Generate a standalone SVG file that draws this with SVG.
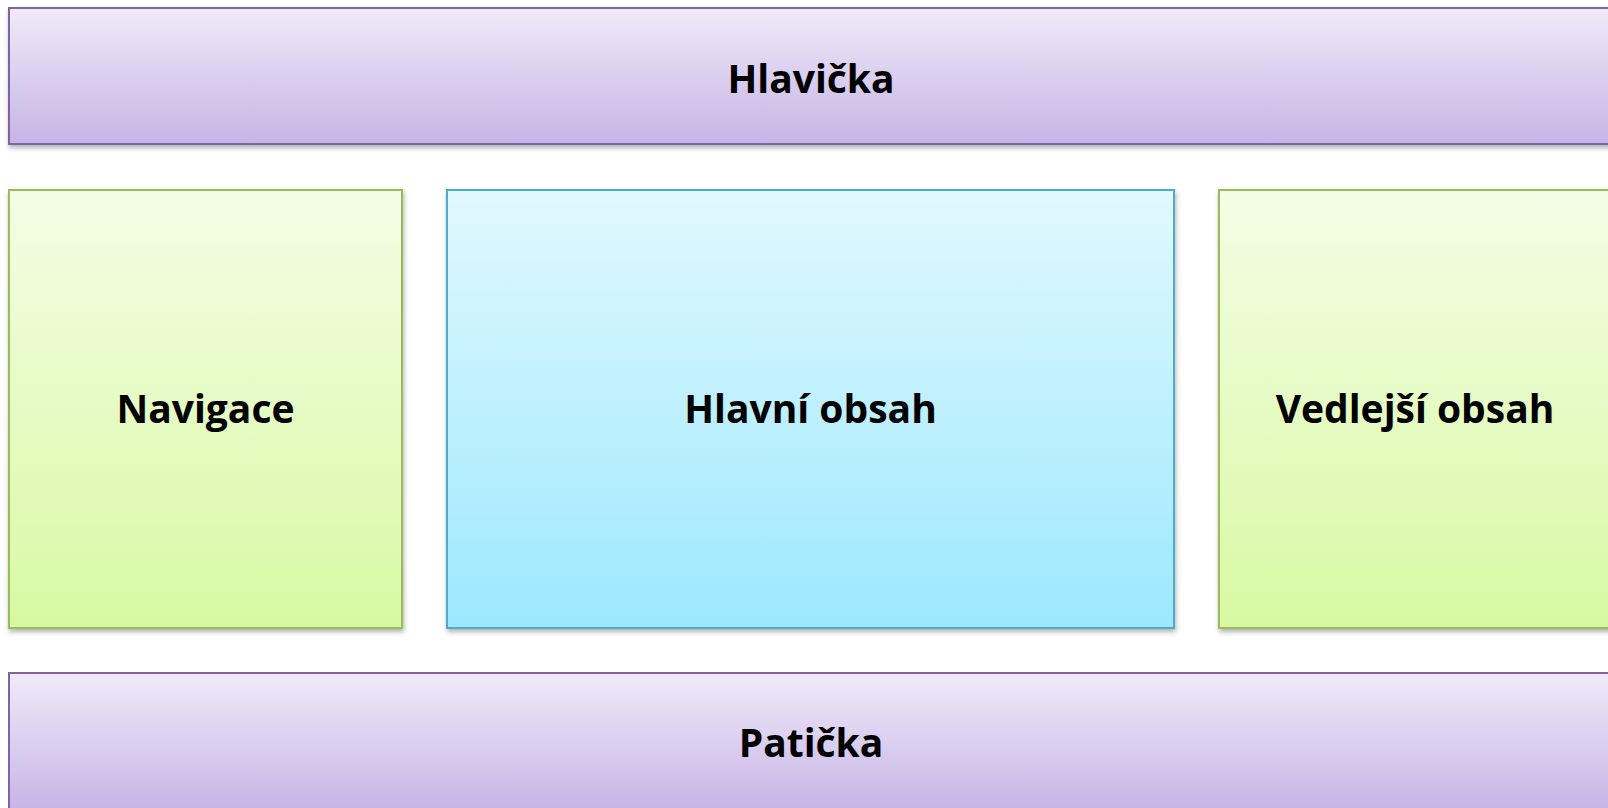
<svg xmlns="http://www.w3.org/2000/svg" width="1608" height="808" viewBox="0 0 1608 808">
<style>
.lbl{font-family:"Open Sans","Liberation Sans",sans-serif;font-weight:700;font-size:39px;fill:#000;text-anchor:middle}
.purple{fill:url(#gP);stroke:#8064a2;stroke-width:2}
.green{fill:url(#gG);stroke:#9bbb59;stroke-width:2}
.blue{fill:url(#gB);stroke:#4bacc6;stroke-width:2}
</style>
<defs>
<linearGradient id="gP" x1="0" y1="0" x2="0" y2="1"><stop offset="0" stop-color="#f0eaf8"/><stop offset="1" stop-color="#c6b4e6"/></linearGradient>
<linearGradient id="gG" x1="0" y1="0" x2="0" y2="1"><stop offset="0" stop-color="#f3fde5"/><stop offset="1" stop-color="#d8f9a3"/></linearGradient>
<linearGradient id="gB" x1="0" y1="0" x2="0" y2="1"><stop offset="0" stop-color="#e1f8fe"/><stop offset="1" stop-color="#9ce8fe"/></linearGradient>
<filter id="sh" x="-5%" y="-5%" width="110%" height="120%"><feDropShadow dx="1" dy="3" stdDeviation="2.5" flood-color="#000" flood-opacity="0.3"/></filter>
</defs>
<g id="hlavicka"><rect class="purple" x="9" y="8" width="1604" height="136" filter="url(#sh)"/><text class="lbl" x="811" y="93">Hlavička</text></g>
<g id="navigace"><rect class="green" x="9" y="190" width="393" height="438" filter="url(#sh)"/><text class="lbl" x="205.5" y="423">Navigace</text></g>
<g id="hlavni-obsah"><rect class="blue" x="447" y="190" width="727" height="438" filter="url(#sh)"/><text class="lbl" x="810.5" y="423">Hlavní obsah</text></g>
<g id="vedlejsi-obsah"><rect class="green" x="1219" y="190" width="394" height="438" filter="url(#sh)"/><text class="lbl" x="1415" y="423">Vedlejší obsah</text></g>
<g id="paticka"><rect class="purple" x="9" y="673" width="1604" height="140"/><text class="lbl" x="811" y="757">Patička</text></g>
<g id="connectors"/>
</svg>
